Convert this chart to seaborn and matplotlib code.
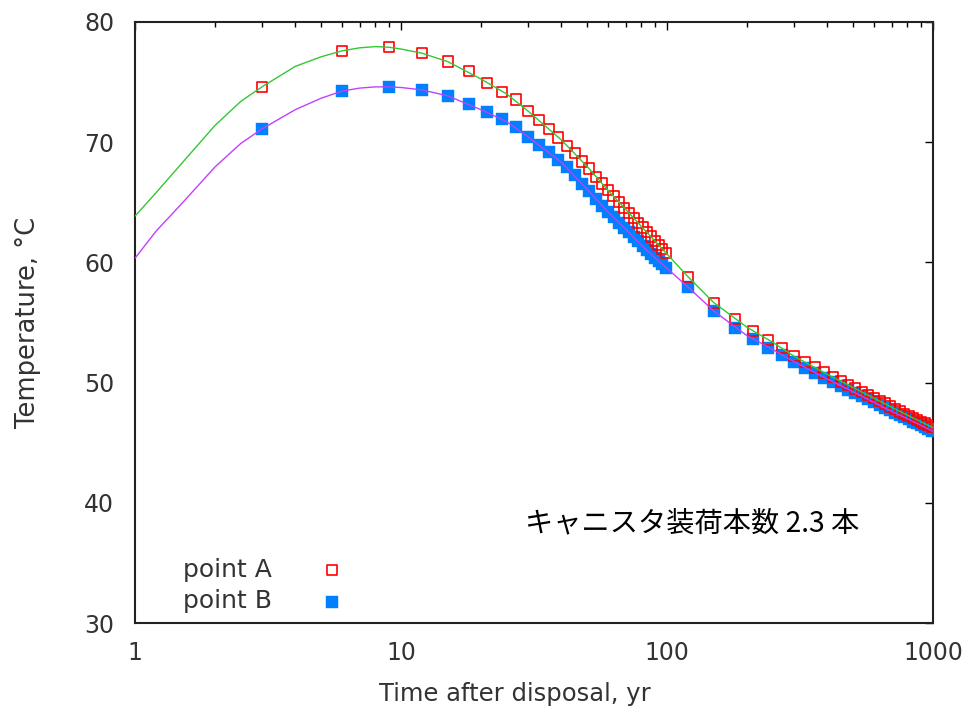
import matplotlib
matplotlib.use("Agg")
import matplotlib.pyplot as plt
import matplotlib.ticker as mticker
import numpy as np
import pandas as pd
import seaborn as sns

# Sampled temperatures at the two observation points
time_pts = [3, 6, 9, 12, 15, 18, 21, 24, 27, 30, 33, 36, 39, 42, 45, 48, 51, 54,
            57, 60, 63, 66, 69, 72, 75, 78, 81, 84, 87, 90, 93, 96, 99,
            120, 150, 180, 210, 240, 270, 300, 330, 360, 390, 420, 450, 480,
            510, 540, 570, 600, 630, 660, 690, 720, 750, 780, 810, 840, 870,
            900, 930, 960, 990]
temp_a = [74.6, 77.6, 77.9, 77.4, 76.7, 75.9, 74.95, 74.2, 73.55, 72.6, 71.85,
          71.1, 70.4, 69.7, 69.1, 68.4, 67.8, 67.1,
          66.55, 66.0, 65.5, 65.0, 64.55, 64.1, 63.7, 63.3, 62.9, 62.5, 62.15,
          61.8, 61.45, 61.1, 60.8,
          58.8, 56.65, 55.3, 54.3, 53.55, 52.85, 52.2, 51.7, 51.25, 50.85,
          50.45, 50.1, 49.8, 49.5, 49.2, 48.95, 48.7, 48.45, 48.25, 48.0,
          47.8, 47.6, 47.4, 47.25, 47.05, 46.9, 46.75, 46.6, 46.45, 46.3]
temp_b = [71.1, 74.25, 74.6, 74.35, 73.85, 73.2, 72.5, 71.9, 71.25, 70.45,
          69.75, 69.2, 68.55, 67.9, 67.3, 66.55, 65.9, 65.25,
          64.7, 64.2, 63.75, 63.3, 62.9, 62.5, 62.1, 61.75, 61.4, 61.05, 60.7,
          60.4, 60.1, 59.85, 59.55,
          57.95, 55.95, 54.55, 53.6, 52.9, 52.3, 51.75, 51.25, 50.8, 50.4,
          50.05, 49.7, 49.4, 49.1, 48.85, 48.6, 48.35, 48.1, 47.9, 47.7,
          47.5, 47.3, 47.1, 46.95, 46.75, 46.6, 46.45, 46.3, 46.15, 46.0]

# Continuous calculated curves
time_line = [1, 1.2, 1.5, 2, 2.5, 3, 4, 5, 6, 7, 8, 9, 10, 12, 15, 20, 25, 30,
             40, 50, 60, 70, 80, 90, 100, 120, 150, 200, 250, 300, 400, 500,
             600, 700, 800, 900, 1000]
line_a = [63.85, 65.8, 68.25, 71.4, 73.4, 74.6, 76.3, 77.1, 77.6, 77.85, 77.95,
          77.9, 77.75, 77.4, 76.7, 75.25, 74.0, 72.6, 70.2, 68.0, 66.0, 64.4,
          63.0, 61.8, 60.7, 58.8, 56.65, 54.6, 53.35, 52.2, 50.7, 49.6, 48.7,
          47.95, 47.3, 46.75, 46.25]
line_b = [60.35, 62.6, 64.9, 67.95, 69.9, 71.1, 72.7, 73.65, 74.25, 74.5, 74.6,
          74.6, 74.55, 74.35, 73.85, 72.7, 71.7, 70.45, 68.35, 66.1, 64.2,
          62.75, 61.45, 60.4, 59.5, 57.95, 55.95, 53.9, 52.75, 51.75, 50.3,
          49.25, 48.35, 47.6, 47.0, 46.45, 45.95]

x_ticks = [1, 10, 100, 1000]
y_ticks = [30, 40, 50, 60, 70, 80]

pts = pd.DataFrame({"t": time_pts, "A": temp_a, "B": temp_b})
curves = pd.DataFrame({"t": time_line, "A": line_a, "B": line_b})

sns.set_theme(style="white")
plt.rcParams["font.family"] = ["DejaVu Sans", "Noto Sans CJK JP"]

fig = plt.figure(figsize=(9.68, 7.18), dpi=100)
ax = fig.add_axes([0.1395, 0.1323, 0.8243, 0.8371])

RED = "#ff0000"
BLUE = "#0080ff"
GREEN = "#33c833"
MAGENTA = "#c040ff"
TXT = "#333333"

sns.scatterplot(data=pts, x="t", y="B", ax=ax, marker="s", s=70,
                color=BLUE, edgecolor=BLUE, linewidth=0.3, label="point B",
                zorder=3)
sns.scatterplot(data=pts, x="t", y="A", ax=ax, marker="s", s=55,
                facecolors="none", edgecolors=RED, linewidth=1.2,
                label="point A", zorder=4)
sns.lineplot(data=curves, x="t", y="A", ax=ax, color=GREEN, linewidth=1.0,
             estimator=None, legend=False, zorder=5)
sns.lineplot(data=curves, x="t", y="B", ax=ax, color=MAGENTA, linewidth=1.0,
             estimator=None, legend=False, zorder=5)

ax.set_xscale("log")
ax.set_xlim(1, 1000)
ax.set_ylim(30, 80)
ax.xaxis.set_major_locator(mticker.FixedLocator(x_ticks))
ax.xaxis.set_major_formatter(mticker.FixedFormatter([str(v) for v in x_ticks]))
ax.xaxis.set_minor_locator(mticker.LogLocator(base=10, subs=np.arange(2, 10)))
ax.xaxis.set_minor_formatter(mticker.NullFormatter())
ax.set_yticks(y_ticks)

ax.tick_params(which="both", direction="in", top=True, right=True,
               colors="black", width=1.0, labelcolor=TXT, labelsize=17)
ax.tick_params(which="major", length=6)
ax.tick_params(which="minor", length=3.5)
ax.tick_params(axis="x", pad=13)
ax.tick_params(axis="y", pad=15)

for sp in ax.spines.values():
    sp.set_color("#222222")
    sp.set_linewidth(1.5)

ax.set_xlabel("Time after disposal, yr", fontsize=17.5, color=TXT)
ax.xaxis.set_label_coords(0.476, -0.098)
ax.set_ylabel("Temperature, °C", fontsize=18.5, color=TXT)
ax.yaxis.set_label_coords(-0.118, 0.5)

ax.text(0.489, 0.166, "キャニスタ装荷本数 2.3 本", transform=ax.transAxes,
        fontsize=20.3, family=["Noto Sans CJK JP"], color="black",
        ha="left", va="center")

handles, labels = ax.get_legend_handles_labels()
order = [labels.index("point A"), labels.index("point B")]
ax.legend([handles[i] for i in order], [labels[i] for i in order],
          loc="lower left", bbox_to_anchor=(0.032, -0.021), frameon=False,
          markerfirst=False, fontsize=18, handlelength=2.0,
          handletextpad=1.4, labelspacing=0.3, labelcolor=TXT)

fig.savefig("out.png", dpi=100, facecolor="white")
